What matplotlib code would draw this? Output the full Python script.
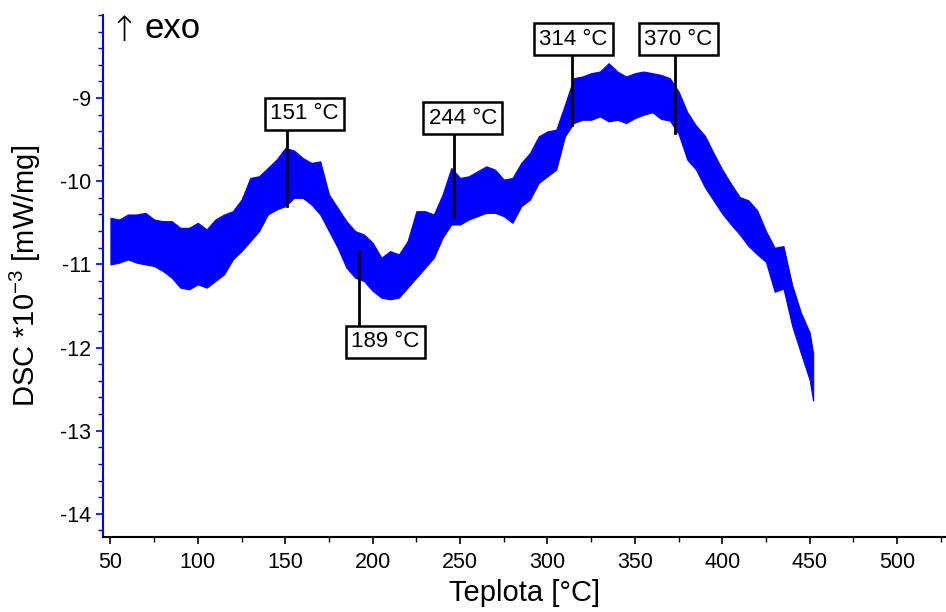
import matplotlib
matplotlib.use("Agg")
import matplotlib.pyplot as plt
from matplotlib.ticker import MultipleLocator

plt.rcParams["font.family"] = ["Liberation Sans", "DejaVu Sans"]
plt.rcParams["axes.unicode_minus"] = False
plt.rcParams["mathtext.fontset"] = "custom"
plt.rcParams["mathtext.rm"] = "Liberation Sans"
plt.rcParams["mathtext.default"] = "regular"

# DSC signal band (upper / lower edge of the noisy trace)
temp = [50, 55, 60, 65, 70, 75, 80, 85, 90, 95, 100, 105, 110, 115, 120, 125,
        130, 135, 140, 145, 150, 155, 160, 165, 170, 175, 180, 185, 190, 195,
        200, 205, 210, 215, 220, 225, 230, 235, 240, 245, 250, 255, 260, 265,
        270, 275, 280, 285, 290, 295, 300, 305, 310, 315, 320, 325, 330, 335,
        340, 345, 350, 355, 360, 365, 370, 375, 380, 385, 390, 395, 400, 405,
        410, 415, 420, 425, 430, 435, 440, 445, 450, 452]
dsc_upper = [-10.44, -10.46, -10.40, -10.40, -10.38, -10.46, -10.48, -10.48,
             -10.56, -10.56, -10.50, -10.58, -10.46, -10.40, -10.36, -10.22,
             -9.96, -9.94, -9.84, -9.74, -9.60, -9.63, -9.72, -9.78, -9.76,
             -10.16, -10.32, -10.48, -10.60, -10.64, -10.74, -10.92, -10.84,
             -10.88, -10.72, -10.36, -10.36, -10.40, -10.16, -9.84, -9.96,
             -9.94, -9.88, -9.82, -9.86, -9.98, -9.96, -9.78, -9.66, -9.46,
             -9.40, -9.38, -9.08, -8.76, -8.74, -8.70, -8.68, -8.58, -8.68,
             -8.74, -8.70, -8.68, -8.70, -8.72, -8.76, -8.92, -9.17, -9.33,
             -9.45, -9.66, -9.86, -10.03, -10.19, -10.23, -10.35, -10.60,
             -10.80, -10.78, -11.25, -11.58, -11.82, -12.07]
dsc_lower = [-11.00, -10.98, -10.94, -10.98, -11.00, -11.02, -11.08, -11.16,
             -11.28, -11.30, -11.24, -11.28, -11.20, -11.12, -10.94, -10.84,
             -10.72, -10.60, -10.40, -10.34, -10.30, -10.20, -10.20, -10.28,
             -10.40, -10.60, -10.80, -11.04, -11.16, -11.20, -11.32, -11.40,
             -11.42, -11.40, -11.28, -11.16, -11.04, -10.92, -10.68, -10.52,
             -10.52, -10.46, -10.42, -10.38, -10.38, -10.42, -10.50, -10.30,
             -10.22, -10.02, -9.94, -9.86, -9.46, -9.30, -9.26, -9.26, -9.22,
             -9.28, -9.26, -9.30, -9.24, -9.20, -9.17, -9.25, -9.27, -9.43,
             -9.74, -9.86, -10.07, -10.23, -10.39, -10.52, -10.64, -10.78,
             -10.88, -10.97, -11.33, -11.29, -11.74, -12.07, -12.39, -12.64]

# peak annotations
peak_labels = ["151 °C", "189 °C", "244 °C", "314 °C", "370 °C"]
peak_line_x = [151.1, 192.1, 246.5, 314.3, 373.0]
peak_line_y0 = [-10.30, -10.84, -10.43, -9.32, -9.42]
box_x = [160.8, 207.4, 251.5, 315.0, 375.0]
box_y = [-9.19, -11.93, -9.24, -8.29, -8.29]

fig = plt.figure(figsize=(9.46, 6.12), dpi=100)
ax = fig.add_axes([0.109, 0.1225, 0.891, 0.853])

ax.fill_between(temp, dsc_lower, dsc_upper, color="#0000ff", lw=0.8,
                edgecolor="#0000ff", zorder=2)

for lx, ly, bx, by, lab in zip(peak_line_x, peak_line_y0, box_x, box_y, peak_labels):
    ax.plot([lx, lx], [ly, by], color="black", lw=2, zorder=3)
    ax.text(bx, by, lab, fontsize=16, ha="center", va="center", zorder=4,
            bbox=dict(boxstyle="square,pad=0.24", fc="white", ec="black", lw=1.8))

# exo marker: tall arrow + text
ax.text(0.008, 0.970, "↑", transform=ax.transAxes, fontsize=25,
        ha="left", va="center", family=["DejaVu Sans"], fontweight="light")
ax.text(0.049, 0.975, "exo", transform=ax.transAxes, fontsize=25,
        ha="left", va="center")

ax.set_xlim(45.8, 528)
ax.set_ylim(-14.28, -8.0)
ax.xaxis.set_major_locator(MultipleLocator(50))
ax.xaxis.set_minor_locator(MultipleLocator(25))
ax.set_yticks([-14, -13, -12, -11, -10, -9])
ax.yaxis.set_minor_locator(MultipleLocator(0.2))

for s in ["top", "right"]:
    ax.spines[s].set_visible(False)
ax.spines["left"].set_color("#0000ff")
ax.spines["left"].set_linewidth(1.5)
ax.spines["bottom"].set_linewidth(1.5)

ax.tick_params(axis="both", which="major", labelsize=15.5, length=5, width=1.2)
ax.tick_params(axis="both", which="minor", length=3.5, width=1)
ax.tick_params(axis="y", which="both", color="#0000ff")
ax.tick_params(axis="x", pad=6)

ax.set_xlabel("Teplota [°C]", fontsize=21, labelpad=4)
ax.set_ylabel("DSC *10$^{-3}$ [mW/mg]", fontsize=21, labelpad=12)

fig.savefig("out.png", dpi=100)
